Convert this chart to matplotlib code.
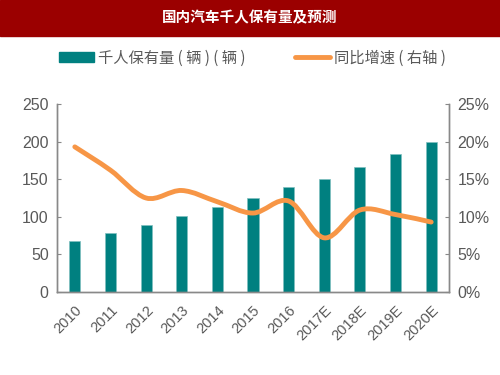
import matplotlib
matplotlib.use("Agg")
import matplotlib.pyplot as plt
import numpy as np
from matplotlib.path import Path
from matplotlib.patches import PathPatch, Patch
from matplotlib.lines import Line2D

plt.rcParams['font.family'] = ['Liberation Sans Narrow', 'Liberation Sans', 'Noto Sans CJK SC', 'DejaVu Sans']

# data
years = ['2010', '2011', '2012', '2013', '2014', '2015', '2016',
         '2017E', '2018E', '2019E', '2020E']
cars_per_1000 = [68, 79, 89, 101, 113, 125, 140, 150, 166, 183, 200]
growth_pct = [19.3, 16.2, 12.5, 13.5, 12.0, 10.5, 12.1, 7.2, 10.9, 10.3, 9.3]

teal = '#008080'
orange = '#F79646'
grey = '#595959'
axis_grey = '#898989'
cjk = ['Noto Sans CJK SC', 'DejaVu Sans']


def smooth_path(xs, ys):
    # excel-like smoothed line: catmull-rom as cubic bezier segments
    xs = np.asarray(xs, float)
    ys = np.asarray(ys, float)
    n = len(xs)
    verts = [(xs[0], ys[0])]
    codes = [Path.MOVETO]
    for i in range(n - 1):
        p0 = (xs[max(i-1, 0)], ys[max(i-1, 0)])
        p1 = (xs[i], ys[i])
        p2 = (xs[i+1], ys[i+1])
        p3 = (xs[min(i+2, n-1)], ys[min(i+2, n-1)])
        c1 = (p1[0] + (p2[0]-p0[0])/6, p1[1] + (p2[1]-p0[1])/6)
        c2 = (p2[0] - (p3[0]-p1[0])/6, p2[1] - (p3[1]-p1[1])/6)
        verts += [c1, c2, p2]
        codes += [Path.CURVE4]*3
    return Path(verts, codes)


fig = plt.figure(figsize=(5, 3.75), dpi=100)

# title bar
fig.patches.append(plt.Rectangle((0, 1-36/375), 1, 36/375, transform=fig.transFigure,
                                 color='#9B0000', zorder=0))
fig.text(0.5, 1-17/375, '国内汽车千人保有量及预测', color='white', fontsize=10.5,
         fontweight='heavy', ha='center', va='center', family=cjk)

ax = fig.add_axes([57/500, 1-292/375, 392/500, 188/375])
x = np.arange(len(years))
ax.bar(x, cars_per_1000, width=0.31, color=teal, edgecolor='#7FBFBF', linewidth=0.5, zorder=2)
ax.set_xlim(-0.5, len(years)-0.5)
ax.set_ylim(0, 250)
ax.set_yticks(range(0, 251, 50))
ax.set_xticks(x)
ax.set_xticklabels(years, rotation=45, ha='right', rotation_mode='anchor')
ax.tick_params(axis='x', length=0, pad=8, labelsize=10.5, labelcolor=grey)
ax.tick_params(axis='y', direction='in', length=3, color=axis_grey, labelsize=11.5,
               labelcolor=grey, pad=6)

ax2 = ax.twinx()
ax2.set_ylim(0, 25)
ax2.set_yticks(range(0, 26, 5))
ax2.set_yticklabels([f'{v}%' for v in range(0, 26, 5)])
ax2.tick_params(axis='y', direction='in', length=3, color=axis_grey, labelsize=11.5,
                labelcolor=grey, pad=6)
ax2.add_patch(PathPatch(smooth_path(x, growth_pct), facecolor='none', edgecolor=orange,
                        linewidth=3.5, capstyle='round', zorder=3))

for a in (ax, ax2):
    a.spines['top'].set_visible(False)
    for s in ('left', 'right', 'bottom'):
        a.spines[s].set_color(axis_grey)
        a.spines[s].set_linewidth(1)

handles = [Patch(color=teal), Line2D([], [], color=orange, linewidth=3.5, solid_capstyle='round')]
fig.legend(handles, ['千人保有量 ( 辆 ) ( 辆 )', '同比增速 ( 右轴 )'], loc='center',
           bbox_to_anchor=(0.505, 1-58/375), ncol=2, frameon=False,
           prop={'family': cjk, 'size': 11},
           labelcolor=grey, columnspacing=3.2, handlelength=2.3, handleheight=0.6,
           handletextpad=0.3)

fig.savefig('out.png', dpi=100)
